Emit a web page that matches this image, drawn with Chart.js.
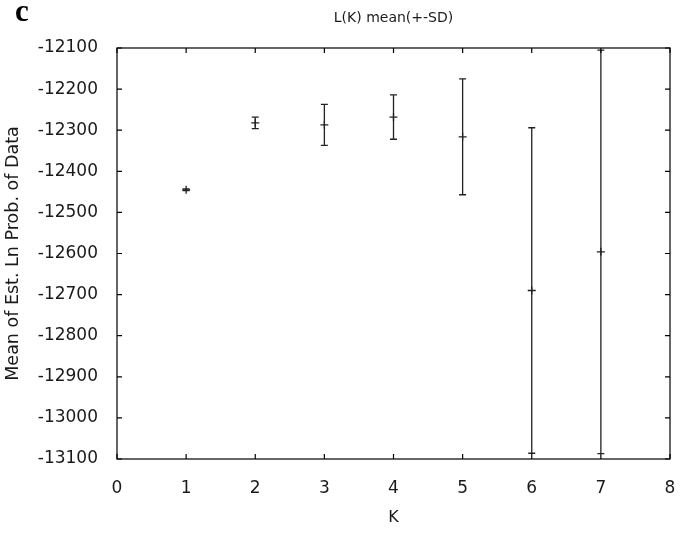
<!DOCTYPE html>
<html>
<head>
<meta charset="utf-8">
<script src="https://cdn.jsdelivr.net/npm/chart.js@4/dist/chart.umd.min.js"></script>
<style>
    html, body { margin: 0; padding: 0; background: #fff; }
    #wrap { position: relative; width: 680px; height: 536px; }
    #panel-label {
        position: absolute; left: 15px; top: -7px; line-height: normal;
        font-family: "Liberation Serif", serif; font-weight: bold; font-size: 31px; color: #000;
    }
</style>
</head>
<body>
<div id="wrap">
    <canvas id="chart" width="680" height="536"></canvas>
    <div id="panel-label">c</div>
</div>
<script>
// K values, mean L(K) and its SD
const kValues = [1, 2, 3, 4, 5, 6, 7];
const meanLnP = [-12445, -12282, -12287, -12268, -12316, -12690, -12596];
const sdLnP = [2, 14, 50, 54, 141, 396, 491];

const FONT = "'DejaVu Sans', sans-serif";
const INK = '#1a1a1a';

// error bars, frame and inward ticks (gnuplot style)
const errorBarPlugin = {
    id: 'errorBars',
    afterDatasetsDraw(chart) {
        const { ctx, chartArea: a, scales: { x, y } } = chart;
        ctx.save();
        ctx.strokeStyle = '#222';
        ctx.lineWidth = 1.3;
        kValues.forEach((k, i) => {
            const px = x.getPixelForValue(k);
            const top = y.getPixelForValue(meanLnP[i] + sdLnP[i]);
            const bot = y.getPixelForValue(meanLnP[i] - sdLnP[i]);
            ctx.beginPath();
            ctx.moveTo(px, top); ctx.lineTo(px, bot);
            ctx.moveTo(px - 3.5, top); ctx.lineTo(px + 3.5, top);
            ctx.moveTo(px - 3.5, bot); ctx.lineTo(px + 3.5, bot);
            ctx.stroke();
        });

        ctx.strokeStyle = '#000';
        ctx.lineWidth = 1.2;
        ctx.strokeRect(a.left, a.top, a.right - a.left, a.bottom - a.top);
        ctx.beginPath();
        x.ticks.forEach(t => {
            const px = x.getPixelForValue(t.value);
            ctx.moveTo(px, a.bottom); ctx.lineTo(px, a.bottom - 5);
            ctx.moveTo(px, a.top); ctx.lineTo(px, a.top + 5);
        });
        y.ticks.forEach(t => {
            const py = y.getPixelForValue(t.value);
            ctx.moveTo(a.left, py); ctx.lineTo(a.left + 5, py);
            ctx.moveTo(a.right, py); ctx.lineTo(a.right - 5, py);
        });
        ctx.stroke();
        ctx.restore();
    }
};

new Chart(document.getElementById('chart'), {
    type: 'scatter',
    data: {
        datasets: [{
            data: kValues.map((k, i) => ({ x: k, y: meanLnP[i] })),
            pointStyle: 'cross',
            radius: 4,
            borderColor: '#222',
            borderWidth: 1.3,
            backgroundColor: '#222'
        }]
    },
    options: {
        responsive: false,
        animation: false,
        layout: { padding: { left: 0, right: 10, top: 0, bottom: 5 } },
        plugins: {
            legend: { display: false },
            tooltip: { enabled: false },
            title: {
                display: true,
                text: 'L(K) mean(+-SD)',
                fullSize: false,
                color: INK,
                font: { family: FONT, size: 14, weight: 'normal' },
                padding: { top: 10, bottom: 21.2 }
            }
        },
        scales: {
            x: {
                type: 'linear',
                min: 0, max: 8,
                afterFit(scale) {
                    scale.height = 72;
                    scale.paddingLeft = 0;
                    scale.paddingRight = 0;
                },
                ticks: { stepSize: 1, padding: 11, color: INK, font: { family: FONT, size: 17 } },
                grid: { display: false },
                border: { display: false },
                title: { display: true, text: 'K', color: INK, font: { family: FONT, size: 16 }, padding: { top: 4, bottom: 4 } }
            },
            y: {
                type: 'linear',
                min: -13100, max: -12100,
                afterFit(scale) {
                    scale.width = 117;
                    scale.paddingTop = 0;
                    scale.paddingBottom = 0;
                },
                ticks: {
                    stepSize: 100, padding: 11, color: INK, font: { family: FONT, size: 17 },
                    callback: v => String(v)
                },
                grid: { display: false },
                border: { display: false },
                title: { display: true, text: 'Mean of Est. Ln Prob. of Data', color: INK, font: { family: FONT, size: 17.5 }, padding: { top: 3, bottom: 4 } }
            }
        }
    },
    plugins: [errorBarPlugin]
});
</script>
</body>
</html>
